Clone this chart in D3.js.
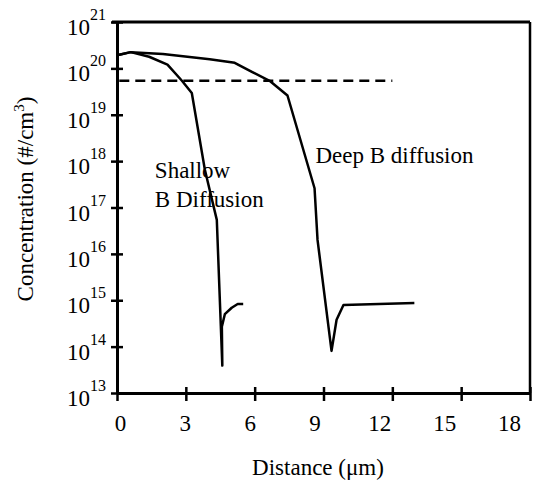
<!DOCTYPE html>
<html>
<head>
<meta charset="utf-8">
<script src="https://cdn.jsdelivr.net/npm/d3@7"></script>
<style>
  html, body { margin: 0; padding: 0; background: #fff; }
  svg { display: block; font-family: "Liberation Serif", "Times New Roman", serif; }
</style>
</head>
<body>
<svg id="chart" width="533" height="484"></svg>
<script>
// x axis (distance, um)
var xTicks = [0, 3, 6, 9, 12, 15, 18];
// y axis decades (log10 of concentration)
var yExponents = [13, 14, 15, 16, 17, 18, 19, 20, 21];

// shallow B diffusion profile
var shallowX = [0.05, 0.6, 1.4, 2.2, 2.83, 3.26, 3.83, 4.35, 4.59, 4.57, 4.7, 5.0, 5.26, 5.5];
var shallowC = [1.95e20, 2.24e20, 1.78e20, 1.2e20, 5.4e19, 2.95e19, 6.5e17, 5.4e16, 3.9e13, 2.7e14, 5.0e14, 6.9e14, 8.3e14, 8.3e14];

// deep B diffusion profile
var deepX = [0.05, 0.6, 2.0, 4.04, 5.13, 5.9, 6.65, 7.43, 8.61, 8.74, 9.35, 9.57, 9.87, 12.96];
var deepC = [1.95e20, 2.24e20, 2.04e20, 1.58e20, 1.32e20, 8.3e19, 5.4e19, 2.6e19, 2.6e17, 2.0e16, 8.1e13, 3.8e14, 7.9e14, 8.7e14];

// dashed solubility level
var dashX = [0.1, 12.0];
var dashC = [5.4e19, 5.4e19];

// annotations: [text, x, log10(y) of baseline]
var notes = [
  ['Shallow', 1.65, 17.64],
  ['B Diffusion', 1.65, 17.01],
  ['Deep B diffusion', 8.65, 17.96]
];

var svg = d3.select('#chart');

var x = d3.scaleLinear().domain([0, 18]).range([117, 530]);
var y = d3.scaleLog().domain([1e13, 1e21]).range([393, 22]);
// the printed tick numbers sit a little left of their ticks, more so to the right
var xLabel = d3.scaleLinear().domain([0, 18]).range([120, 509]);

var ink = '#000';

// frame: top and right lines
svg.append('line')
  .attr('x1', x(0) - 5).attr('x2', x(18))
  .attr('y1', y(1e21)).attr('y2', y(1e21))
  .attr('stroke', ink).attr('stroke-width', 3);
svg.append('line')
  .attr('x1', x(18)).attr('x2', x(18))
  .attr('y1', y(1e21)).attr('y2', y(1e13))
  .attr('stroke', ink).attr('stroke-width', 2.5);

// left axis
var yAxis = d3.axisLeft(y)
  .tickValues(yExponents.map(function (e) { return Math.pow(10, e); }))
  .tickSize(6)
  .tickSizeOuter(0)
  .tickFormat('');
var gy = svg.append('g').attr('transform', 'translate(' + x(0) + ',0)').call(yAxis);
gy.select('.domain').attr('stroke', ink).attr('stroke-width', 3);
gy.selectAll('.tick line').attr('x1', 6).attr('x2', -6).attr('stroke', ink).attr('stroke-width', 2.5);

// y tick labels with superscript exponents
yExponents.forEach(function (e) {
  var ty = y(Math.pow(10, e));
  svg.append('text')
    .attr('x', 90).attr('y', ty + 13)
    .attr('text-anchor', 'end')
    .attr('font-size', 23)
    .text('10');
  svg.append('text')
    .attr('x', 90).attr('y', ty - 2)
    .attr('font-size', 16)
    .text(e);
});

// bottom axis
var xAxis = d3.axisBottom(x)
  .tickValues(xTicks)
  .tickSize(6)
  .tickSizeOuter(0)
  .tickPadding(16);
var gx = svg.append('g').attr('transform', 'translate(0,' + y(1e13) + ')').call(xAxis);
gx.select('.domain').attr('stroke', ink).attr('stroke-width', 3);
gx.selectAll('.tick line').attr('y1', -6).attr('y2', 8).attr('stroke', ink).attr('stroke-width', 2.5);
gx.selectAll('.tick text')
  .attr('font-family', '"Liberation Serif", serif')
  .attr('font-size', 23)
  .attr('fill', ink)
  .attr('x', function (d) { return xLabel(d) - x(d); });

// curves
var line = d3.line()
  .x(function (d) { return x(d[0]); })
  .y(function (d) { return y(d[1]); });

svg.append('path')
  .datum(d3.zip(shallowX, shallowC))
  .attr('d', line)
  .attr('fill', 'none').attr('stroke', ink).attr('stroke-width', 2.5)
  .attr('stroke-linejoin', 'round');

svg.append('path')
  .datum(d3.zip(deepX, deepC))
  .attr('d', line)
  .attr('fill', 'none').attr('stroke', ink).attr('stroke-width', 2.5)
  .attr('stroke-linejoin', 'round');

svg.append('path')
  .datum(d3.zip(dashX, dashC))
  .attr('d', line)
  .attr('fill', 'none').attr('stroke', ink).attr('stroke-width', 2.5)
  .attr('stroke-dasharray', '10,6');

// annotations
notes.forEach(function (n) {
  svg.append('text')
    .attr('x', x(n[1])).attr('y', y(Math.pow(10, n[2])))
    .attr('font-size', 23)
    .text(n[0]);
});

// axis titles
svg.append('text')
  .attr('x', 318).attr('y', 475)
  .attr('text-anchor', 'middle')
  .attr('font-size', 23)
  .text('Distance (\u03bcm)');

var yt = svg.append('text')
  .attr('transform', 'translate(33,199) rotate(-90)')
  .attr('text-anchor', 'middle')
  .attr('font-size', 23);
yt.append('tspan').text('Concentration (#/cm');
yt.append('tspan').attr('font-size', 15).attr('dy', -9).text('3');
yt.append('tspan').attr('dy', 9).text(')');
</script>
</body>
</html>
